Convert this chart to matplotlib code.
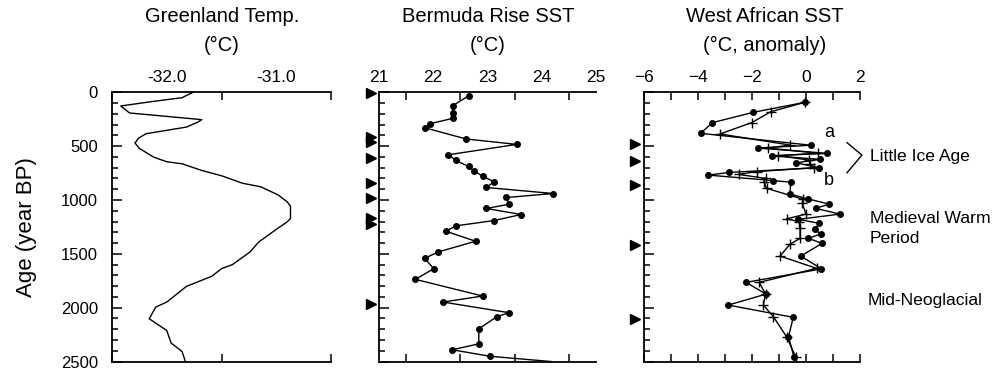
import matplotlib
matplotlib.use("Agg")
import matplotlib.pyplot as plt
import matplotlib.transforms as mtransforms
import numpy as np

plt.rcParams["font.family"] = ["Liberation Sans", "DejaVu Sans"]

# Greenland temperature (age in yr BP, deg C)
gr_age = [0, 50, 87, 127, 192, 254, 279, 323, 385, 428, 471, 521, 602, 645, 664,
          726, 775, 844, 878, 955, 1017, 1058, 1172, 1203, 1266, 1390, 1483, 1600,
          1638, 1709, 1802, 1948, 1994, 2103, 2212, 2329, 2407, 2500]
gr_temp = [-31.76, -31.86, -32.14, -32.42, -32.34, -31.68, -31.72, -31.82, -32.19,
           -32.26, -32.29, -32.25, -32.12, -32.00, -31.86, -31.68, -31.50, -31.31,
           -31.14, -30.98, -30.90, -30.87, -30.87, -30.90, -30.99, -31.16, -31.24,
           -31.40, -31.50, -31.59, -31.82, -32.00, -32.10, -32.16, -32.00, -31.96,
           -31.86, -31.83]

# Bermuda Rise SST
bm_age = [34, 124, 195, 242, 292, 329, 434, 484, 580, 633, 689, 732, 782, 831, 884,
          940, 977, 1039, 1079, 1135, 1191, 1240, 1290, 1383, 1483, 1542, 1638, 1737,
          1892, 1948, 2047, 2084, 2196, 2336, 2391, 2451, 2500]
bm_sst = [22.65, 22.36, 22.36, 22.36, 21.94, 21.84, 22.61, 23.54, 22.28, 22.42,
          22.65, 22.76, 22.92, 23.12, 22.98, 24.21, 23.35, 23.40, 22.98, 23.62,
          23.12, 22.42, 22.23, 22.78, 22.09, 21.84, 22.01, 21.67, 22.91, 22.18,
          23.40, 23.17, 22.84, 22.84, 22.35, 23.04, 24.17]
bm_tri = [10, 415, 462, 613, 840, 979, 1171, 1223, 1970]

# West African SST anomaly, record with dots
wa1_age = [93, 186, 282, 381, 492, 517, 567, 589, 623, 655, 700, 744, 769, 820, 835,
           945, 991, 1038, 1078, 1131, 1180, 1217, 1273, 1316, 1356, 1403, 1521,
           1640, 1765, 1874, 1976, 2090, 2270, 2462]
wa1_sst = [-0.04, -1.95, -3.47, -3.90, 0.19, -1.79, 0.77, -1.27, 0.52, -0.37, 0.49,
           -2.84, -3.62, -1.21, -0.57, -0.59, 0.09, 0.86, 0.36, 1.26, -0.28, 0.49,
           0.33, 0.54, 0.09, 0.59, -0.19, 0.57, -2.22, -1.48, -2.88, -0.47, -0.65,
           -0.44]
# West African SST anomaly, record with crosses
wa2_age = [93, 180, 282, 387, 490, 518, 565, 589, 630, 665, 700, 737, 762, 800, 830,
           892, 994, 1031, 1131, 1175, 1202, 1264, 1357, 1410, 1521, 1635, 1765,
           1874, 1976, 2083, 2270, 2462]
wa2_sst = [-0.04, -1.30, -2.01, -3.19, -0.59, -1.42, 0.46, -1.02, 0.12, 0.15, 0.30,
           -1.83, -2.50, -1.50, -1.56, -1.46, -0.10, -0.14, 0.00, -0.72, -0.25,
           -0.22, -0.22, -0.59, -0.96, 0.39, -1.73, -1.50, -1.58, -1.21, -0.72, -0.37]
wa_tri = [480, 635, 861, 1418, 2104]

fig = plt.figure(figsize=(9.92, 3.69), dpi=100)
bottom, height = 0.0203, 0.7296
ax1 = fig.add_axes([112 / 992, bottom, 219 / 992, height])
ax2 = fig.add_axes([379 / 992, bottom, 217 / 992, height])
ax3 = fig.add_axes([644 / 992, bottom, 216 / 992, height])


def style_axis(ax, xlim, minor_step, major_ticks):
    ax.set_ylim(2500, 0)
    ax.set_xlim(*xlim)
    ax.spines["right"].set_visible(False)
    for s in ["left", "top", "bottom"]:
        ax.spines[s].set_linewidth(1.3)
    ax.set_yticks(np.arange(0, 2501, 500))
    ax.set_yticks(np.arange(0, 2501, 100), minor=True)
    ax.set_xticks(np.arange(xlim[0], xlim[1] + 1e-6, minor_step), minor=True)
    ax.set_xticks(major_ticks)
    ax.tick_params(axis="x", which="both", direction="in", top=True, bottom=True,
                   labeltop=True, labelbottom=False, length=6, width=1.1,
                   labelsize=12.5, pad=5)
    ax.tick_params(axis="y", which="major", direction="in", length=7, width=1.1,
                   labelsize=12, pad=10)
    ax.tick_params(axis="y", which="minor", direction="in", length=4, width=1.1)


style_axis(ax1, (-32.5, -30.5), 0.5, [-32.0, -31.0])
ax1.set_xticklabels(["-32.0", "-31.0"])
ax1.tick_params(axis="x", which="major", length=0)
ax1.plot(gr_temp, gr_age, color="black", lw=1.0)
ax1.set_ylabel("Age (year BP)", fontsize=16, labelpad=17)

style_axis(ax2, (21, 25), 0.5, [21, 22, 23, 24, 25])
ax2.tick_params(axis="x", which="major", length=0)
ax2.set_yticklabels([])
ax2.plot(bm_sst, bm_age, color="black", lw=1.0, marker="o", ms=4,
         markevery=list(range(len(bm_age) - 1)), clip_on=False, zorder=3)

style_axis(ax3, (-6, 2), 1, [-6, -4, -2, 0, 2])
ax3.tick_params(axis="x", which="major", length=6)
ax3.set_yticklabels([])
ax3.plot(wa1_sst, wa1_age, color="black", lw=1.0, marker="o", ms=4, zorder=3)
ax3.plot(wa2_sst, wa2_age, color="black", lw=1.0, marker="+", ms=7, mew=1.0,
         zorder=3)

# age-control triangles outside the left axis
for ax, ages, xpos in [(ax2, bm_tri, -0.037), (ax3, wa_tri, -0.042)]:
    trans = mtransforms.blended_transform_factory(ax.transAxes, ax.transData)
    ax.plot([xpos] * len(ages), ages, linestyle="none", marker=">", ms=7.5,
            color="black", transform=trans, clip_on=False)

# titles
title_fs = 14.5
fig.text(222 / 992, 1 - 17 / 369, "Greenland Temp.", ha="center", va="center",
         fontsize=title_fs)
fig.text(222 / 992, 1 - 45 / 369, "(\u00b0C)", ha="center", va="center",
         fontsize=title_fs)
fig.text(488 / 992, 1 - 17 / 369, "Bermuda Rise SST", ha="center", va="center",
         fontsize=title_fs)
fig.text(488 / 992, 1 - 45 / 369, "(\u00b0C)", ha="center", va="center",
         fontsize=title_fs)
fig.text(765 / 992, 1 - 17 / 369, "West African SST", ha="center", va="center",
         fontsize=title_fs)
fig.text(765 / 992, 1 - 45 / 369, "(\u00b0C, anomaly)", ha="center", va="center",
         fontsize=title_fs)

# period annotations
trans3 = mtransforms.blended_transform_factory(ax3.transAxes, ax3.transData)
ax3.plot([0.94, 1.009, 0.94], [468, 583, 747], color="black", lw=1.0,
         transform=trans3, clip_on=False)
ax3.text(0.856, 369, "a", transform=trans3, ha="center", va="center", fontsize=13)
ax3.text(0.856, 815, "b", transform=trans3, ha="center", va="center", fontsize=13)
ax3.text(1.046, 598, "Little Ice Age", transform=trans3, ha="left", va="center",
         fontsize=12.6)
ax3.text(1.046, 1264, "Medieval Warm\nPeriod", transform=trans3, ha="left",
         va="center", fontsize=12.6, linespacing=1.45)
ax3.text(1.037, 1930, "Mid-Neoglacial", transform=trans3, ha="left", va="center",
         fontsize=12.6)

fig.savefig("out.png", dpi=100)
